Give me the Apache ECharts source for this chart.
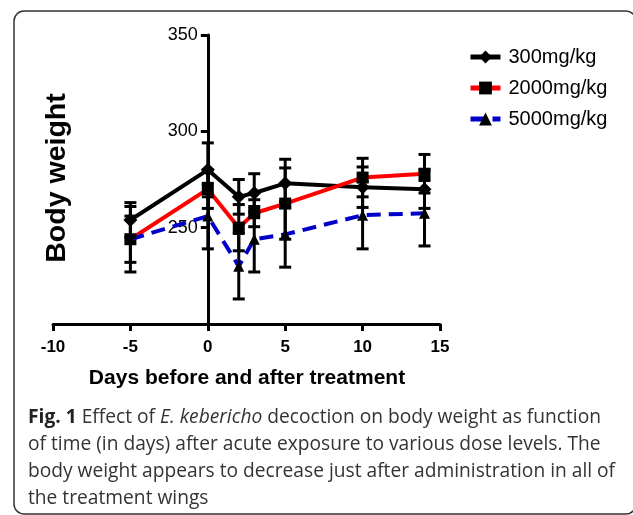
<!DOCTYPE html>
<html>
<head>
<meta charset="utf-8">
<script src="https://cdn.jsdelivr.net/npm/echarts@6/dist/echarts.min.js"></script>
<style>
  html, body { margin: 0; padding: 0; background: #fff; }
  #chart { width: 633px; height: 515px; }
</style>
</head>
<body>
<div id="chart"></div>
<script>
// days before/after treatment
const days = [-5, 0, 2, 3, 5, 10, 14];

// mean body weight and error (+/-) per dose group
const mean300 = [254, 280, 266, 268, 273, 271, 270];
const err300 = [9, 14, 9, 10, 12.5, 10.5, 10];
const mean2000 = [244, 270, 250, 257.5, 262.5, 276, 278];
const err2000 = [12, 10, 12, 7, 18.5, 10, 10];
const mean5000 = [244, 256, 230, 244, 246.5, 256.5, 257.5];
const err5000 = [17, 17, 17, 17, 17, 17.5, 17];

const seriesNames = ['300mg/kg', '2000mg/kg', '5000mg/kg'];
const xTicks = [-10, -5, 0, 5, 10, 15];
const yTicks = [200, 250, 300, 350];

const captionLines = [
  '{b|Fig. 1} Effect of {i|E. kebericho} decoction on body weight as function',
  'of time (in days) after acute exposure to various dose levels. The',
  'body weight appears to decrease just after administration in all of',
  'the treatment wings'
];

const chart = echarts.init(document.getElementById('chart'));

function pairs(means) {
  return days.map((d, i) => [d, means[i]]);
}

function errData(means, errs) {
  return days.map((d, i) => [d, means[i] - errs[i], means[i] + errs[i]]);
}

function renderErr(params, api) {
  const x = api.value(0);
  const lo = api.coord([x, api.value(1)]);
  const hi = api.coord([x, api.value(2)]);
  const w = 6;
  const st = { stroke: '#000', lineWidth: 3 };
  return {
    type: 'group',
    children: [
      { type: 'line', shape: { x1: lo[0], y1: lo[1], x2: hi[0], y2: hi[1] }, style: st },
      { type: 'line', shape: { x1: lo[0] - w, y1: lo[1], x2: lo[0] + w, y2: lo[1] }, style: st },
      { type: 'line', shape: { x1: hi[0] - w, y1: hi[1], x2: hi[0] + w, y2: hi[1] }, style: st }
    ]
  };
}

const axisFont = 'Liberation Sans';
const gridLeft = 53;
const gridRight = 193;
const gridWidth = 633 - gridLeft - gridRight;
const xMin = xTicks[0];
const xMax = xTicks[xTicks.length - 1];
// put the y axis where x = 0, like the Prism original
const yAxisShift = -((0 - xMin) / (xMax - xMin)) * gridWidth;

const capSize = 19.2;

const option = {
  animation: false,
  grid: { left: gridLeft, right: gridRight, top: 35, bottom: 191 },
  legend: {
    orient: 'vertical',
    left: 463,
    top: 42,
    itemWidth: 30,
    itemHeight: 16,
    itemGap: 11,
    data: seriesNames,
    lineStyle: { width: 5 },
    textStyle: { fontSize: 20, color: '#000', fontFamily: axisFont, padding: [0, 0, 0, 3] }
  },
  xAxis: {
    type: 'value',
    min: xMin,
    max: xMax,
    interval: 5,
    axisLine: { onZero: false, lineStyle: { color: '#000', width: 3 } },
    axisTick: { length: 7, lineStyle: { color: '#000', width: 3 } },
    splitLine: { show: false },
    axisLabel: { margin: 15, fontSize: 17, fontWeight: 'bold', color: '#000', fontFamily: axisFont }
  },
  yAxis: {
    type: 'value',
    position: 'left',
    offset: yAxisShift,
    min: yTicks[0],
    max: yTicks[yTicks.length - 1],
    interval: 50,
    axisLine: { show: true, onZero: false, lineStyle: { color: '#000', width: 3 } },
    axisTick: { show: true, length: 7, lineStyle: { color: '#000', width: 3 } },
    splitLine: { show: false },
    axisLabel: { showMinLabel: false, margin: 10, fontSize: 18, color: '#000', fontFamily: axisFont }
  },
  graphic: [
    {
      type: 'rect',
      shape: { x: 14, y: 11, width: 622, height: 503, r: 10 },
      style: { fill: 'none', stroke: '#333', lineWidth: 1.5 },
      silent: true
    },
    {
      type: 'text',
      x: 57,
      y: 178,
      rotation: Math.PI / 2,
      style: {
        text: 'Body weight',
        font: 'bold 28.5px "Liberation Sans"',
        fill: '#000',
        textAlign: 'center',
        textVerticalAlign: 'middle'
      }
    },
    {
      type: 'text',
      x: 247,
      y: 378,
      style: {
        text: 'Days before and after treatment',
        font: 'bold 21px "Liberation Sans"',
        fill: '#000',
        textAlign: 'center',
        textVerticalAlign: 'middle'
      }
    },
    ...captionLines.map((t, i) => ({
      type: 'text',
      x: 28,
      y: 418 + i * 27,
      style: {
        text: t,
        fontSize: capSize,
        fontFamily: 'Open Sans',
        fill: '#333',
        textVerticalAlign: 'middle',
        rich: {
          b: { fontWeight: 'bold', fontSize: capSize, fontFamily: 'Open Sans', fill: '#222' },
          i: { fontStyle: 'italic', fontSize: capSize, fontFamily: 'Open Sans', fill: '#333' }
        }
      }
    }))
  ],
  series: [
    {
      name: seriesNames[0],
      type: 'line',
      data: pairs(mean300),
      symbol: 'diamond',
      symbolSize: 14,
      itemStyle: { color: '#000' },
      lineStyle: { color: '#000', width: 4 },
      z: 3
    },
    {
      name: seriesNames[1],
      type: 'line',
      data: pairs(mean2000),
      symbol: 'rect',
      symbolSize: 12,
      itemStyle: { color: '#000' },
      lineStyle: { color: '#f00', width: 4 },
      z: 4
    },
    {
      name: seriesNames[2],
      type: 'line',
      data: pairs(mean5000),
      symbol: 'triangle',
      symbolSize: 11,
      itemStyle: { color: '#000' },
      lineStyle: { color: '#0000c8', width: 4, type: [14, 8] },
      z: 5
    },
    { type: 'custom', renderItem: renderErr, data: errData(mean300, err300), z: 6 },
    { type: 'custom', renderItem: renderErr, data: errData(mean2000, err2000), z: 6 },
    { type: 'custom', renderItem: renderErr, data: errData(mean5000, err5000), z: 6 }
  ]
};

chart.setOption(option);
</script>
</body>
</html>
